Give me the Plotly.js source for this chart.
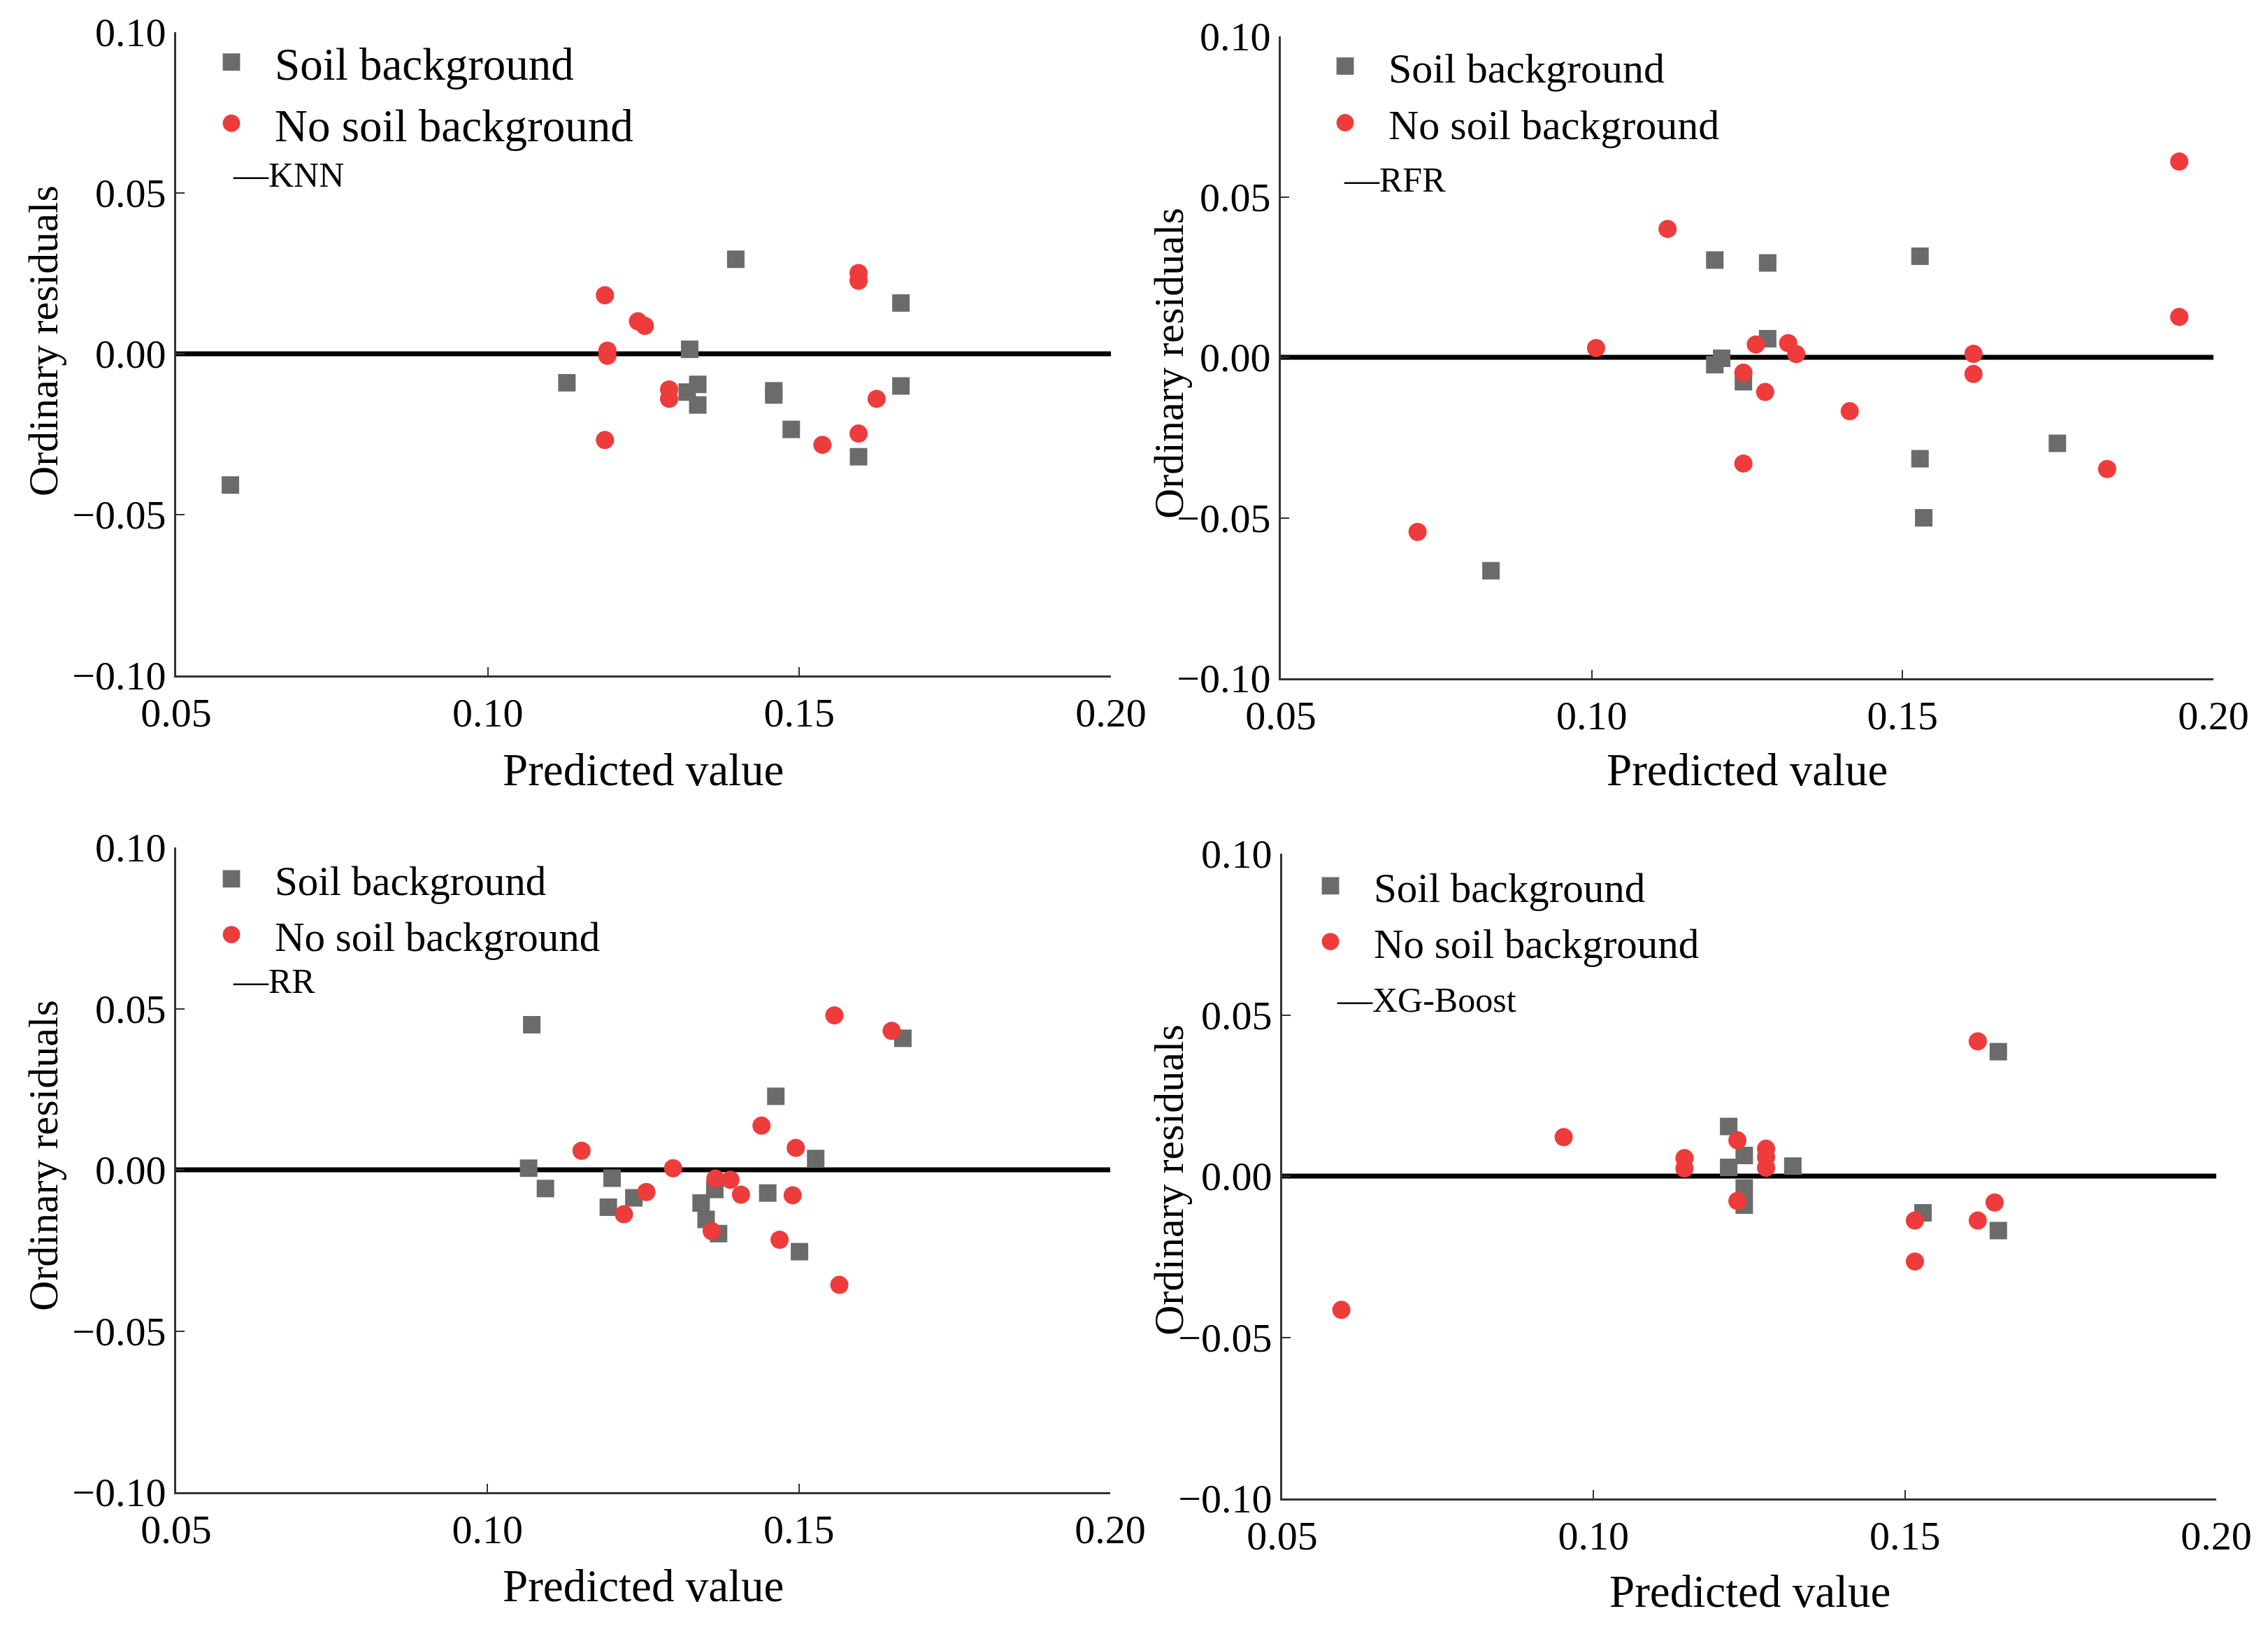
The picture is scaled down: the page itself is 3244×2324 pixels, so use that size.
<!DOCTYPE html>
<html>
<head>
<meta charset="utf-8">
<script src="https://cdn.plot.ly/plotly-3.0.1.min.js"></script>
<style>html,body{margin:0;padding:0;background:#fff;}#chart{width:3244px;height:2324px;}</style>
</head>
<body>
<div id="chart"></div>
<script>
// ---------- Data ----------
const modelNames = ['KNN', 'RFR', 'RR', 'XG-Boost'];
const seriesNames = ['Soil background', 'No soil background'];
const xTickVals = [0.05, 0.10, 0.15, 0.20];
const yTickVals = [-0.10, -0.05, 0.00, 0.05, 0.10];
const zeroLineX = [0.05, 0.20];
const zeroLineY = [0, 0];

const knnSoilX = [0.0587,0.1127,0.1324,0.1320,0.1337,0.1337,0.1398,0.1459,0.1459,0.1487,0.1595,0.1663,0.1663];
const knnSoilY = [-0.0408,-0.0090,0.0014,-0.0119,-0.0095,-0.0159,0.0294,-0.0115,-0.0128,-0.0235,-0.0320,0.0158,-0.0100];
const knnNoSoilX = [0.1188,0.1192,0.1192,0.1188,0.1241,0.1252,0.1291,0.1291,0.1537,0.1595,0.1595,0.1595,0.1624];
const knnNoSoilY = [0.0182,0.0010,-0.0006,-0.0268,0.0101,0.0087,-0.0111,-0.0140,-0.0283,0.0251,0.0227,-0.0248,-0.0140];

const rfrSoilX = [0.0838,0.1198,0.1198,0.1209,0.1244,0.1283,0.1283,0.1528,0.1528,0.1534,0.1749];
const rfrSoilY = [-0.0665,0.0303,-0.0023,-0.0003,-0.0076,0.0294,0.0058,0.0315,-0.0316,-0.0500,-0.0268];
const rfrNoSoilX = [0.0720,0.1007,0.1122,0.1244,0.1244,0.1264,0.1279,0.1316,0.1329,0.1415,0.1614,0.1614,0.1829,0.1945,0.1945];
const rfrNoSoilY = [-0.0544,0.0029,0.0400,-0.0048,-0.0331,0.0040,-0.0108,0.0044,0.0010,-0.0168,0.0011,-0.0052,-0.0348,0.0610,0.0126];

const rrSoilX = [0.1071,0.1066,0.1093,0.1200,0.1194,0.1235,0.1343,0.1351,0.1365,0.1371,0.1450,0.1463,0.1501,0.1527,0.1667];
const rrSoilY = [0.0450,0.0005,-0.0058,-0.0026,-0.0116,-0.0087,-0.0103,-0.0154,-0.0061,-0.0198,-0.0072,0.0228,-0.0254,0.0035,0.0408];
const rrNoSoilX = [0.1151,0.1219,0.1255,0.1298,0.1360,0.1366,0.1390,0.1407,0.1440,0.1469,0.1490,0.1495,0.1557,0.1565,0.1649];
const rrNoSoilY = [0.0059,-0.0138,-0.0069,0.0005,-0.0190,-0.0027,-0.0031,-0.0077,0.0137,-0.0217,-0.0079,0.0068,0.0479,-0.0357,0.0431];

const xgbSoilX = [0.1217,0.1217,0.1242,0.1242,0.1242,0.1320,0.1529,0.1650,0.1650];
const xgbSoilY = [0.0154,0.0027,0.0064,-0.0037,-0.0090,0.0031,-0.0114,0.0386,-0.0169];
const xgbNoSoilX = [0.0595,0.0952,0.1146,0.1146,0.1231,0.1231,0.1277,0.1277,0.1277,0.1516,0.1516,0.1617,0.1617,0.1644];
const xgbNoSoilY = [-0.0415,0.0121,0.0056,0.0024,0.0111,-0.0077,0.0085,0.0059,0.0026,-0.0138,-0.0265,0.0418,-0.0138,-0.0082];

// ---------- Layout helpers ----------
const W = 3244, H = 2324;
const FONT = 'Liberation Serif, Times New Roman, serif';
const GREY = '#6b6b6b', RED = '#ee3b3b';
const px = v => v / W;            // horizontal pixel -> paper
const py = v => 1 - v / H;        // vertical pixel (from top) -> paper

const panels = [
  {sx: knnSoilX, sy: knnSoilY, nx: knnNoSoilX, ny: knnNoSoilY, name: modelNames[0],
   xd: [252, 1589], yd: [46, 966], leg: [269, 40], legSize: 65, tag: [331, 250],
   ytitle: [62, 488], xtitle: [920, 1101]},
  {sx: rfrSoilX, sy: rfrSoilY, nx: rfrNoSoilX, ny: rfrNoSoilY, name: modelNames[1],
   xd: [1832, 3166], yd: [52, 970], leg: [1862, 49], legSize: 60, tag: [1920, 257],
   ytitle: [1672, 520], xtitle: [2499, 1101]},
  {sx: rrSoilX, sy: rrSoilY, nx: rrNoSoilX, ny: rrNoSoilY, name: modelNames[2],
   xd: [252, 1588], yd: [1212, 2134], leg: [269, 1212], legSize: 59, tag: [331, 1403],
   ytitle: [62, 1653], xtitle: [920, 2268]},
  {sx: xgbSoilX, sy: xgbSoilY, nx: xgbNoSoilX, ny: xgbNoSoilY, name: modelNames[3],
   xd: [1834, 3170], yd: [1221, 2143], leg: [1841, 1222], legSize: 59, tag: [1910, 1430],
   ytitle: [1672, 1688], xtitle: [2503, 2276]}
];

const traces = [];
const layout = {
  width: W, height: H,
  margin: {l: 0, r: 0, t: 0, b: 0},
  paper_bgcolor: '#fff', plot_bgcolor: '#fff',
  font: {family: FONT, color: '#000'},
  showlegend: true,
  annotations: []
};

panels.forEach((p, i) => {
  const n = i + 1;
  const xa = 'x' + (n === 1 ? '' : n), ya = 'y' + (n === 1 ? '' : n);
  const legId = 'legend' + (n === 1 ? '' : n);
  traces.push({
    type: 'scatter', mode: 'lines', x: zeroLineX, y: zeroLineY, xaxis: xa, yaxis: ya,
    name: p.name, showlegend: false,
    line: {color: '#000', width: 7}
  });
  traces.push({
    type: 'scatter', mode: 'markers', x: p.sx, y: p.sy, xaxis: xa, yaxis: ya,
    name: seriesNames[0], legend: legId,
    marker: {symbol: 'square', size: 25, color: GREY, line: {width: 0}}
  });
  traces.push({
    type: 'scatter', mode: 'markers', x: p.nx, y: p.ny, xaxis: xa, yaxis: ya,
    name: seriesNames[1], legend: legId,
    marker: {symbol: 'circle', size: 26, color: RED, line: {width: 0}}
  });

  const axCommon = {
    showline: true, linecolor: '#333', linewidth: 3, mirror: false,
    showgrid: false, zeroline: false,
    ticks: 'inside', ticklen: 12, tickwidth: 2, tickcolor: '#333',
    tickfont: {family: FONT, size: 58, color: '#000'},
    fixedrange: true
  };
  layout['xaxis' + (n === 1 ? '' : n)] = Object.assign({}, axCommon, {
    domain: [px(p.xd[0]), px(p.xd[1])], anchor: ya,
    range: [0.05, 0.20], tickvals: xTickVals, tickformat: '.2f'
  });
  layout['yaxis' + (n === 1 ? '' : n)] = Object.assign({}, axCommon, {
    domain: [py(p.yd[1]), py(p.yd[0])], anchor: xa,
    range: [-0.10, 0.10], tickvals: yTickVals, tickformat: '.2f'
  });
  layout[legId] = {
    x: px(p.leg[0]), y: py(p.leg[1]), xanchor: 'left', yanchor: 'top',
    xref: 'paper', yref: 'paper',
    bgcolor: 'rgba(0,0,0,0)', borderwidth: 0,
    font: {family: FONT, size: p.legSize, color: '#000'},
    itemsizing: 'trace', itemwidth: 114, tracegroupgap: 0
  };
  // model label under the legend (the black zero line key)
  layout.annotations.push({
    xref: 'paper', yref: 'paper', x: px(p.tag[0]), y: py(p.tag[1]),
    text: '\u2014' + p.name, showarrow: false,
    xanchor: 'left', yanchor: 'middle',
    font: {family: FONT, size: 50, color: '#000'}
  });
  layout.annotations.push({
    xref: 'paper', yref: 'paper', x: px(p.ytitle[0]), y: py(p.ytitle[1]),
    text: 'Ordinary residuals', textangle: -90, showarrow: false,
    xanchor: 'center', yanchor: 'middle',
    font: {family: FONT, size: 60, color: '#000'}
  });
  layout.annotations.push({
    xref: 'paper', yref: 'paper', x: px(p.xtitle[0]), y: py(p.xtitle[1]),
    text: 'Predicted value', showarrow: false,
    xanchor: 'center', yanchor: 'middle',
    font: {family: FONT, size: 65, color: '#000'}
  });
});

Plotly.newPlot('chart', traces, layout, {displayModeBar: false, staticPlot: true}).then(gd => {
  // enlarge legend symbols (Plotly caps legend marker size at 16px)
  gd.querySelectorAll('.legendpoints path.scatterpts').forEach(el => {
    const t = el.getAttribute('transform') || '';
    el.setAttribute('transform', t + ' scale(1.55)');
  });
});
</script>
</body>
</html>
